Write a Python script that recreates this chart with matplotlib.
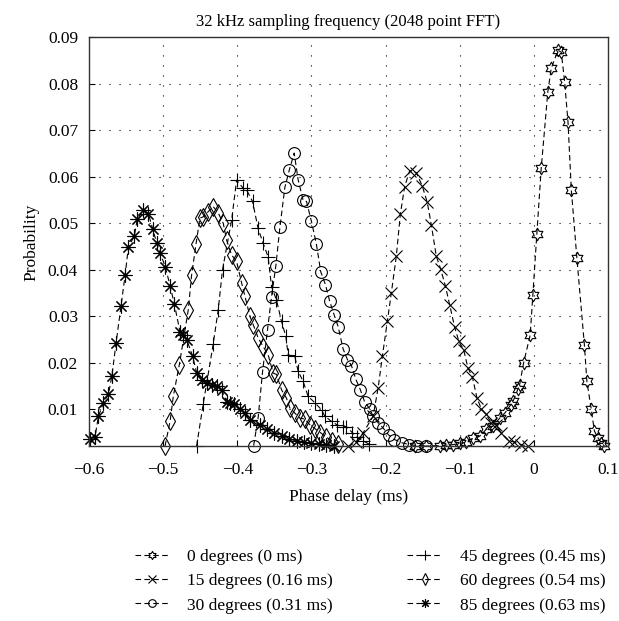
import numpy as np
import matplotlib.pyplot as plt
from matplotlib.path import Path

plt.rcParams['font.family'] = ['Liberation Serif', 'DejaVu Serif']

# 0 degrees (0 ms)
x_0 = [-0.160, -0.145, -0.127, -0.118, -0.109, -0.100, -0.091, -0.082, -0.073, -0.064,
       -0.055, -0.046, -0.039, -0.031, -0.028, -0.0215, -0.019, -0.0138, -0.0048, -0.0012,
       0.0042, 0.0101, 0.019, 0.0236, 0.0326, 0.0371, 0.0417, 0.0462, 0.0507, 0.0582,
       0.0683, 0.0717, 0.0776, 0.0819, 0.0866, 0.0911, 0.0954]
y_0 = [0.0020, 0.0021, 0.0022, 0.0023, 0.0024, 0.0027, 0.0029, 0.0038, 0.0042, 0.0057,
       0.0064, 0.0081, 0.0092, 0.0110, 0.0117, 0.0143, 0.0153, 0.0199, 0.0260, 0.0346,
       0.0478, 0.0619, 0.0783, 0.0833, 0.0872, 0.0868, 0.0804, 0.0718, 0.0572, 0.0425,
       0.0239, 0.0160, 0.0100, 0.0053, 0.0039, 0.0028, 0.0021]

# 15 degrees (0.16 ms)
x_15 = [-0.250, -0.240, -0.230, -0.2168, -0.210, -0.2043, -0.1976, -0.1922, -0.1855, -0.1800,
        -0.1742, -0.1674, -0.1585, -0.1504, -0.1437, -0.1383, -0.1315, -0.1257, -0.1194, -0.1135,
        -0.1068, -0.1010, -0.0946, -0.0888, -0.0829, -0.0767, -0.0708, -0.0642, -0.0574, -0.0507,
        -0.0440, -0.0328, -0.0260, -0.0172, -0.0082]
y_15 = [0.0020, 0.0030, 0.0050, 0.0085, 0.0146, 0.0214, 0.0289, 0.0350, 0.0429, 0.0520,
        0.0579, 0.0613, 0.0609, 0.0580, 0.0545, 0.0497, 0.0429, 0.0402, 0.0366, 0.0325,
        0.0277, 0.0246, 0.0228, 0.0189, 0.0170, 0.0125, 0.0101, 0.0089, 0.0071, 0.0067,
        0.0049, 0.0031, 0.0030, 0.0024, 0.0021]

# 30 degrees (0.31 ms)
x_30 = [-0.378, -0.372, -0.366, -0.3593, -0.3539, -0.348, -0.3426, -0.3359, -0.330, -0.3233,
        -0.318, -0.3112, -0.3067, -0.300, -0.2933, -0.2875, -0.2811, -0.2753, -0.2694, -0.264,
        -0.2573, -0.2515, -0.246, -0.2402, -0.234, -0.228, -0.2213, -0.2168, -0.210, -0.2034,
        -0.196, -0.188, -0.178, -0.168, -0.158, -0.145]
y_30 = [0.0022, 0.0081, 0.0180, 0.0271, 0.0342, 0.0409, 0.0491, 0.0577, 0.0614, 0.0651,
        0.0594, 0.0549, 0.0547, 0.0504, 0.0455, 0.0396, 0.0368, 0.0332, 0.0303, 0.0278,
        0.0230, 0.0207, 0.0194, 0.0165, 0.0142, 0.0115, 0.0101, 0.0085, 0.0071, 0.0060,
        0.0045, 0.0035, 0.0028, 0.0024, 0.0022, 0.0021]

# 45 degrees (0.45 ms)
x_45 = [-0.455, -0.446, -0.4325, -0.4258, -0.420, -0.4077, -0.401, -0.392, -0.3876, -0.3795,
        -0.372, -0.3652, -0.3585, -0.3539, -0.3472, -0.3404, -0.3346, -0.3314, -0.3225, -0.318,
        -0.3112, -0.3045, -0.2954, -0.2864, -0.2819, -0.2729, -0.265, -0.258, -0.253, -0.245,
        -0.238, -0.230, -0.222]
y_45 = [0.0021, 0.0112, 0.0241, 0.0314, 0.0400, 0.0507, 0.0593, 0.0575, 0.0572, 0.0547,
        0.0489, 0.0457, 0.0428, 0.0364, 0.0335, 0.0289, 0.0257, 0.0217, 0.0214, 0.0182,
        0.0160, 0.0128, 0.0114, 0.0099, 0.0085, 0.0074, 0.0066, 0.0063, 0.0063, 0.0050,
        0.0040, 0.0032, 0.0025]

# 60 degrees (0.54 ms)
x_60 = [-0.4976, -0.4908, -0.4864, -0.4783, -0.4662, -0.4617, -0.4558, -0.4505, -0.446, -0.4393,
        -0.4326, -0.4258, -0.419, -0.4145, -0.4078, -0.401, -0.3943, -0.3899, -0.383, -0.3786,
        -0.3718, -0.3652, -0.3584, -0.3517, -0.3472, -0.3404, -0.3337, -0.3292, -0.3225, -0.3157,
        -0.309, -0.3022, -0.295, -0.288, -0.280, -0.272, -0.264]
y_60 = [0.0021, 0.0074, 0.0128, 0.0196, 0.0314, 0.0389, 0.0455, 0.0511, 0.0514, 0.0525,
        0.0536, 0.0522, 0.0500, 0.0464, 0.0432, 0.0418, 0.0372, 0.0344, 0.0300, 0.0282,
        0.0253, 0.0235, 0.0217, 0.0178, 0.0175, 0.0142, 0.0124, 0.0103, 0.0092, 0.0081,
        0.0079, 0.0067, 0.0058, 0.0050, 0.0040, 0.0032, 0.0025]

# 85 degrees (0.63 ms)
x_85 = [-0.5987, -0.592, -0.5875, -0.5807, -0.574, -0.5694, -0.5636, -0.5569, -0.5515, -0.547,
        -0.539, -0.535, -0.5268, -0.520, -0.5143, -0.5089, -0.5043, -0.4972, -0.4908, -0.485,
        -0.4774, -0.473, -0.4684, -0.4603, -0.455, -0.4482, -0.4414, -0.4347, -0.428, -0.4212,
        -0.4145, -0.4095, -0.404, -0.397, -0.390, -0.383, -0.3696, -0.360, -0.350, -0.340,
        -0.330, -0.320, -0.310, -0.300, -0.290, -0.280, -0.270]
y_85 = [0.0037, 0.0041, 0.0085, 0.0114, 0.0132, 0.0171, 0.0243, 0.0323, 0.0388, 0.0449,
        0.0473, 0.0509, 0.0529, 0.0521, 0.0488, 0.0458, 0.0437, 0.0406, 0.0366, 0.0326,
        0.0267, 0.0260, 0.0250, 0.0214, 0.0179, 0.0164, 0.0157, 0.0153, 0.0151, 0.0142,
        0.0116, 0.0113, 0.0112, 0.0100, 0.0092, 0.0078, 0.0067, 0.0058, 0.0050, 0.0042,
        0.0036, 0.0032, 0.0030, 0.0028, 0.0026, 0.0024, 0.0022]

labels = ['0 degrees (0 ms)', '15 degrees (0.16 ms)', '30 degrees (0.31 ms)',
          '45 degrees (0.45 ms)', '60 degrees (0.54 ms)', '85 degrees (0.63 ms)']

# hexagram marker (matlab 'h')
ang = np.pi / 2 + np.arange(12) * np.pi / 6
rad = np.where(np.arange(12) % 2 == 0, 1.0, 1 / np.sqrt(3))
hexv = np.column_stack([rad * np.cos(ang), rad * np.sin(ang)])
hexagram = Path(np.vstack([hexv, hexv[:1]]), closed=True)

series = [(x_0, y_0, hexagram, 9), (x_15, y_15, 'x', 8), (x_30, y_30, 'o', 8.5),
          (x_45, y_45, '+', 10), (x_60, y_60, 'd', 9), (x_85, y_85, (8, 2, 0), 10)]

fig = plt.figure(figsize=(6.19, 6.21), dpi=100)
ax = fig.add_axes([0.144, 0.281, 0.838, 0.659])

handles = []
for (xs, ys, mk, ms), lab in zip(series, labels):
    h, = ax.plot(xs, ys, linestyle=(0, (5, 3)), color='black', linewidth=0.8,
                 marker=mk, markersize=ms, markerfacecolor='none',
                 markeredgecolor='black', markeredgewidth=0.8, label=lab, clip_on=False)
    handles.append(h)

ax.set_xlim(-0.6, 0.1)
ax.set_ylim(0.002, 0.09)
ax.set_xticks(np.arange(-0.6, 0.11, 0.1))
ax.set_xticklabels(['\u22120.6', '\u22120.5', '\u22120.4', '\u22120.3', '\u22120.2', '\u22120.1', '0', '0.1'])
ax.set_yticks(np.arange(0.01, 0.091, 0.01))
ax.set_yticklabels(['%.2f' % v for v in np.arange(0.01, 0.091, 0.01)])
ax.tick_params(direction='in', length=4, labelsize=12.5, top=False, right=False)
ax.tick_params(axis='x', pad=11)
ax.tick_params(axis='y', pad=8)
ax.grid(True, color='black', linestyle=(0, (1, 8)), linewidth=0.8)
for s in ax.spines.values():
    s.set_linewidth(1.0)
    s.set_color('#333333')

ax.set_title('32 kHz sampling frequency (2048 point FFT)', fontsize=12, pad=8)
ax.set_xlabel('Phase delay (ms)', fontsize=12.5, labelpad=8)
ax.set_ylabel('Probability', fontsize=12.5, labelpad=6)

fig.legend(handles=handles, ncol=2, loc='upper center', bbox_to_anchor=(0.598, 0.142),
           frameon=False, fontsize=12.5, handlelength=2.0, columnspacing=4.3,
           handletextpad=1.0, labelspacing=0.48, markerscale=0.65)

fig.savefig('out.png', dpi=100)
